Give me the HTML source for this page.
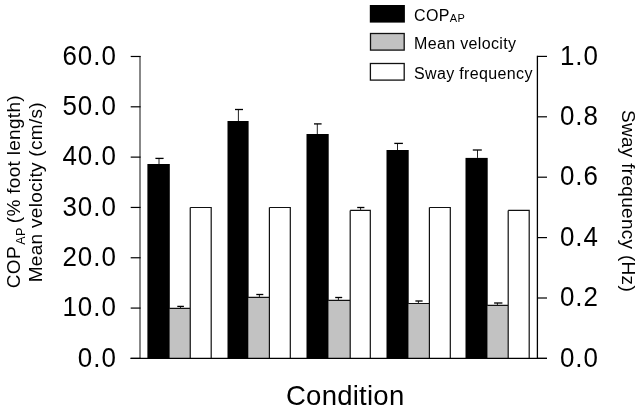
<!DOCTYPE html>
<html><head><meta charset="utf-8"><style>
html,body{margin:0;padding:0;background:#fff;}
svg{display:block;will-change:transform;}
text{font-family:"Liberation Sans", sans-serif;fill:#000;}
</style></head><body>
<svg width="640" height="410" viewBox="0 0 640 410">
<rect width="640" height="410" fill="#fff"/>
<rect x="147.4" y="164.0" width="22.40" height="194.40" fill="#000"/>
<rect x="169.8" y="308.4" width="20.44" height="50.00" fill="#c2c2c2"/>
<path d="M169.3,308.4H190.24V358.4M190.24,207.5H211.2V358.4M190.24,207.5V308.4" fill="none" stroke="#111" stroke-width="1.2"/>
<line x1="159.0" y1="164.0" x2="159.0" y2="158.4" stroke="#222" stroke-width="1"/>
<line x1="155.4" y1="158.4" x2="163.6" y2="158.4" stroke="#000" stroke-width="1.3"/>
<line x1="180.5" y1="308.4" x2="180.5" y2="306.4" stroke="#222" stroke-width="1"/>
<line x1="177.3" y1="306.4" x2="183.9" y2="306.4" stroke="#000" stroke-width="1.3"/>
<rect x="227.5" y="121.0" width="21.10" height="237.40" fill="#000"/>
<rect x="248.6" y="297.4" width="20.80" height="61.00" fill="#c2c2c2"/>
<path d="M248.1,297.4H269.4V358.4M269.4,207.5H290.3V358.4M269.4,207.5V297.4" fill="none" stroke="#111" stroke-width="1.2"/>
<line x1="238.4" y1="121.0" x2="238.4" y2="109.5" stroke="#222" stroke-width="1"/>
<line x1="235.0" y1="109.5" x2="243.0" y2="109.5" stroke="#000" stroke-width="1.3"/>
<line x1="259.4" y1="297.4" x2="259.4" y2="294.5" stroke="#222" stroke-width="1"/>
<line x1="256.3" y1="294.5" x2="263.3" y2="294.5" stroke="#000" stroke-width="1.3"/>
<rect x="306.5" y="134.0" width="22.20" height="224.40" fill="#000"/>
<rect x="328.7" y="300.4" width="21.50" height="58.00" fill="#c2c2c2"/>
<path d="M328.2,300.4H350.2V358.4M350.2,210.4H370.3V358.4M350.2,210.4V300.4" fill="none" stroke="#111" stroke-width="1.2"/>
<line x1="317.3" y1="134.0" x2="317.3" y2="123.9" stroke="#222" stroke-width="1"/>
<line x1="314.0" y1="123.9" x2="321.6" y2="123.9" stroke="#000" stroke-width="1.3"/>
<line x1="338.4" y1="300.4" x2="338.4" y2="297.5" stroke="#222" stroke-width="1"/>
<line x1="335.2" y1="297.5" x2="342.2" y2="297.5" stroke="#000" stroke-width="1.3"/>
<line x1="360.6" y1="210.4" x2="360.6" y2="207.5" stroke="#222" stroke-width="1"/>
<line x1="357.2" y1="207.5" x2="364.4" y2="207.5" stroke="#000" stroke-width="1.3"/>
<rect x="386.5" y="150.0" width="22.20" height="208.40" fill="#000"/>
<rect x="408.7" y="303.5" width="20.70" height="54.90" fill="#c2c2c2"/>
<path d="M408.2,303.5H429.4V358.4M429.4,207.5H450.3V358.4M429.4,207.5V303.5" fill="none" stroke="#111" stroke-width="1.2"/>
<line x1="397.5" y1="150.0" x2="397.5" y2="143.4" stroke="#222" stroke-width="1"/>
<line x1="394.3" y1="143.4" x2="402.9" y2="143.4" stroke="#000" stroke-width="1.3"/>
<line x1="418.4" y1="303.5" x2="418.4" y2="301.0" stroke="#222" stroke-width="1"/>
<line x1="415.4" y1="301.0" x2="422.6" y2="301.0" stroke="#000" stroke-width="1.3"/>
<rect x="465.5" y="157.9" width="22.20" height="200.50" fill="#000"/>
<rect x="487.7" y="305.4" width="20.50" height="53.00" fill="#c2c2c2"/>
<path d="M487.2,305.4H508.2V358.4M508.2,210.4H529.2V358.4M508.2,210.4V305.4" fill="none" stroke="#111" stroke-width="1.2"/>
<line x1="477.5" y1="157.9" x2="477.5" y2="150.0" stroke="#222" stroke-width="1"/>
<line x1="472.8" y1="150.0" x2="481.8" y2="150.0" stroke="#000" stroke-width="1.3"/>
<line x1="497.4" y1="305.4" x2="497.4" y2="303.0" stroke="#222" stroke-width="1"/>
<line x1="494.1" y1="303.0" x2="502.4" y2="303.0" stroke="#000" stroke-width="1.3"/>
<line x1="140" y1="55.9" x2="140" y2="358.4" stroke="#888" stroke-width="2"/>
<line x1="537.4" y1="55.8" x2="537.4" y2="358.4" stroke="#000" stroke-width="1.3"/>
<line x1="130.5" y1="358.4" x2="547" y2="358.4" stroke="#000" stroke-width="1.3"/>
<line x1="130.7" y1="358.40" x2="140.6" y2="358.40" stroke="#000" stroke-width="1.2"/>
<text transform="translate(116.8,366.50) scale(0.96,1)" text-anchor="end" font-size="27" letter-spacing="1.03">0.0</text>
<line x1="130.7" y1="308.08" x2="140.6" y2="308.08" stroke="#000" stroke-width="1.2"/>
<text transform="translate(116.8,316.18) scale(0.96,1)" text-anchor="end" font-size="27" letter-spacing="1.03">10.0</text>
<line x1="130.7" y1="257.76" x2="140.6" y2="257.76" stroke="#000" stroke-width="1.2"/>
<text transform="translate(116.8,265.86) scale(0.96,1)" text-anchor="end" font-size="27" letter-spacing="1.03">20.0</text>
<line x1="130.7" y1="207.44" x2="140.6" y2="207.44" stroke="#000" stroke-width="1.2"/>
<text transform="translate(116.8,215.54) scale(0.96,1)" text-anchor="end" font-size="27" letter-spacing="1.03">30.0</text>
<line x1="130.7" y1="157.12" x2="140.6" y2="157.12" stroke="#000" stroke-width="1.2"/>
<text transform="translate(116.8,165.22) scale(0.96,1)" text-anchor="end" font-size="27" letter-spacing="1.03">40.0</text>
<line x1="130.7" y1="106.80" x2="140.6" y2="106.80" stroke="#000" stroke-width="1.2"/>
<text transform="translate(116.8,114.90) scale(0.96,1)" text-anchor="end" font-size="27" letter-spacing="1.03">50.0</text>
<line x1="130.7" y1="56.48" x2="140.6" y2="56.48" stroke="#000" stroke-width="1.2"/>
<text transform="translate(116.8,64.58) scale(0.96,1)" text-anchor="end" font-size="27" letter-spacing="1.03">60.0</text>
<line x1="537.4" y1="358.40" x2="547" y2="358.40" stroke="#000" stroke-width="1.2"/>
<text transform="translate(559.9,366.60) scale(0.96,1)" font-size="27" letter-spacing="1.03">0.0</text>
<line x1="537.4" y1="298.00" x2="547" y2="298.00" stroke="#000" stroke-width="1.2"/>
<text transform="translate(559.9,306.20) scale(0.96,1)" font-size="27" letter-spacing="1.03">0.2</text>
<line x1="537.4" y1="237.60" x2="547" y2="237.60" stroke="#000" stroke-width="1.2"/>
<text transform="translate(559.9,245.80) scale(0.96,1)" font-size="27" letter-spacing="1.03">0.4</text>
<line x1="537.4" y1="177.20" x2="547" y2="177.20" stroke="#000" stroke-width="1.2"/>
<text transform="translate(559.9,185.40) scale(0.96,1)" font-size="27" letter-spacing="1.03">0.6</text>
<line x1="537.4" y1="116.80" x2="547" y2="116.80" stroke="#000" stroke-width="1.2"/>
<text transform="translate(559.9,125.00) scale(0.96,1)" font-size="27" letter-spacing="1.03">0.8</text>
<line x1="537.4" y1="56.40" x2="547" y2="56.40" stroke="#000" stroke-width="1.2"/>
<text transform="translate(559.9,64.60) scale(0.96,1)" font-size="27" letter-spacing="1.03">1.0</text>
<rect x="369.8" y="5" width="35.1" height="17.6" fill="#000"/>
<rect x="370.5" y="33.5" width="33.7" height="16.6" fill="#c2c2c2" stroke="#111" stroke-width="1.3"/>
<rect x="370.4" y="63.5" width="33.8" height="16.6" fill="#fff" stroke="#111" stroke-width="1.3"/>
<text x="414" y="20.6" font-size="16" letter-spacing="0.35">COP<tspan font-size="11" dy="1">AP</tspan></text>
<text x="414" y="48.8" font-size="16" letter-spacing="0.35">Mean velocity</text>
<text x="414" y="78.8" font-size="16" letter-spacing="0.35">Sway frequency</text>
<text x="286" y="404.5" font-size="27.5" letter-spacing="0.25">Condition</text>
<text transform="translate(19.5,288.2) rotate(-90)" font-size="19" letter-spacing="0.3">COP<tspan font-size="12.5" dx="1.4" dy="5.6">AP</tspan><tspan dx="-1.3" dy="-5.6"> (% foot length)</tspan></text>
<text transform="translate(42,282.3) rotate(-90)" font-size="19" letter-spacing="0.3">Mean velocity (cm/s)</text>
<text transform="translate(621.5,110) rotate(90)" font-size="19" letter-spacing="0.3">Sway frequency (Hz)</text>
</svg>
</body></html>
